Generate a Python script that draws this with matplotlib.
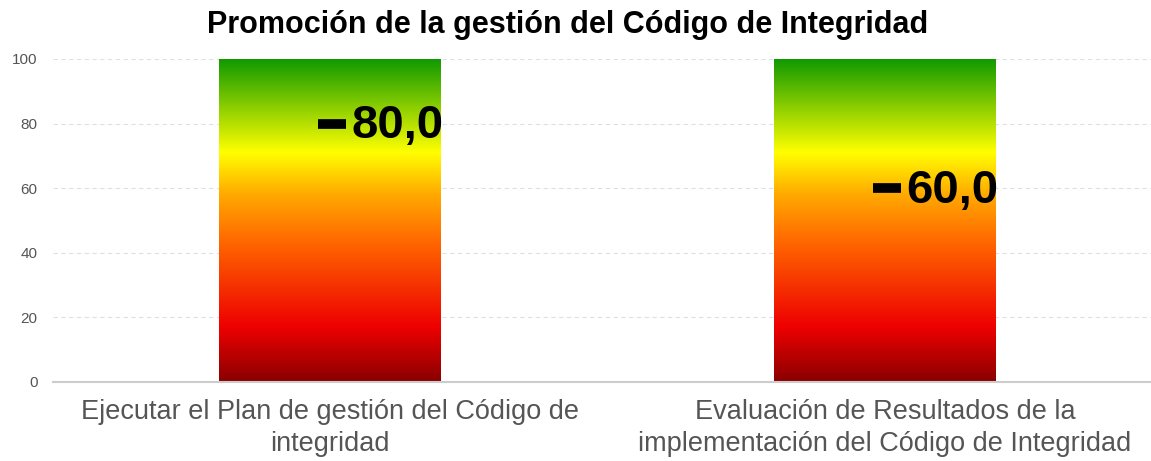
import numpy as np
import matplotlib.pyplot as plt
from matplotlib.colors import LinearSegmentedColormap

# data
categories = ["Ejecutar el Plan de gestión del Código de\nintegridad",
              "Evaluación de Resultados de la\nimplementación del Código de Integridad"]
values = [80.0, 60.0]
bar_max = [100, 100]
yticks = [0, 20, 40, 60, 80, 100]

title = "Promoción de la gestión del Código de Integridad"

plt.rcParams['font.family'] = ['Liberation Sans', 'DejaVu Sans']

grad = LinearSegmentedColormap.from_list("semaforo", [
    (0.0, "#8a0000"),
    (0.17, "#ee0000"),
    (0.43, "#ff6600"),
    (0.58, "#ffaa00"),
    (0.71, "#ffff00"),
    (1.0, "#0f9900"),
])

fig = plt.figure(figsize=(11.51, 4.61), dpi=100)
ax = fig.add_axes([0.046, 0.1714, 0.964, 0.7007])

x = np.arange(len(categories))
bars = ax.bar(x, bar_max, width=0.4, color="none", edgecolor="none", zorder=2)

# gradient fill inside each bar
g = np.linspace(0, 1, 256).reshape(-1, 1)
for b in bars:
    im = ax.imshow(g, cmap=grad, origin="lower", aspect="auto",
                   extent=[b.get_x(), b.get_x() + b.get_width(), 0, b.get_height()],
                   zorder=2)
    im.set_clip_path(b)

# value markers + labels
for xi, b, v in zip(x, bars, values):
    right = b.get_x() + b.get_width()
    ax.plot([right - 0.222, right - 0.172], [v, v], color="black", lw=7,
            solid_capstyle="butt", zorder=4)
    ax.text(right + 0.004, v - 0.8, f"{v:.1f}".replace(".", ","), ha="right", va="center",
            fontsize=34, fontweight="bold", color="black", zorder=5)

ax.set_xlim(-0.5, 1.5)
ax.set_ylim(0, 100)
ax.set_yticks(yticks)
ax.set_yticklabels([str(t) for t in yticks], fontsize=11, color="#555555")
ax.set_xticks(x)
ax.set_xticklabels(categories, fontsize=19.5, color="#555555", linespacing=1.3)
ax.tick_params(axis="both", length=0)
ax.tick_params(axis="y", pad=11)
ax.tick_params(axis="x", pad=12)

ax.grid(axis="y", color="#e0e0e0", linestyle=(0, (4, 3)), lw=0.8, zorder=0)
for s in ["top", "right", "left"]:
    ax.spines[s].set_visible(False)
ax.spines["bottom"].set_color("#cccccc")
ax.spines["bottom"].set_linewidth(1.5)

fig.text(0.493, 0.945, title, ha="center", va="center", fontsize=22,
         fontweight="bold", color="black")

fig.savefig("out.png", dpi=100)
